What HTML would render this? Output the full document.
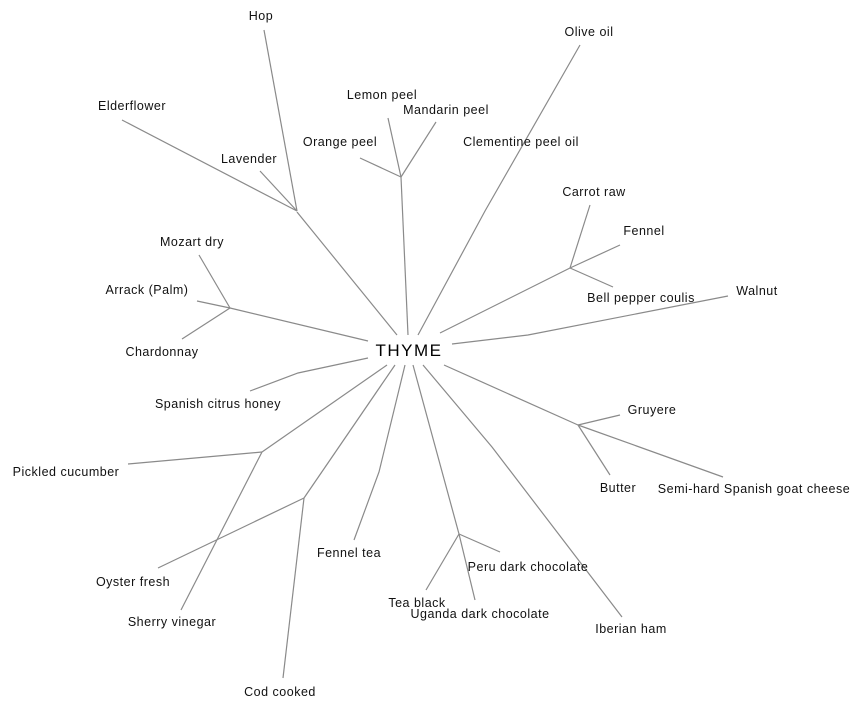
<!DOCTYPE html>
<html><head><meta charset="utf-8"><style>
html,body{margin:0;padding:0;background:#fff;}
svg{display:block;}
text{font-family:"Liberation Sans",Arial,sans-serif;font-size:12.5px;letter-spacing:0.5px;fill:#111;text-anchor:middle;}
</style></head><body>
<svg width="864" height="708" viewBox="0 0 864 708">
<g stroke="#8a8a8a" stroke-width="1.2" fill="none">
<polyline points="264,30 297,211"/>
<polyline points="122,120 297,211"/>
<polyline points="260,171 297,211"/>
<polyline points="297,212 397,335"/>
<polyline points="388,118 401,177"/>
<polyline points="360,158 401,177"/>
<polyline points="436,122 401,177"/>
<polyline points="401,177 408,335"/>
<polyline points="580,45 485,211 418,335"/>
<polyline points="590,205 570,268"/>
<polyline points="620,245 570,268"/>
<polyline points="613,287 570,268"/>
<polyline points="570,268 440,333"/>
<polyline points="728,296 528,335 452,344"/>
<polyline points="199,255 230,308"/>
<polyline points="197,301 230,308"/>
<polyline points="182,339 230,308"/>
<polyline points="230,308 368,341"/>
<polyline points="250,391 298,373 368,358"/>
<polyline points="387,365 262,452"/>
<polyline points="128,464 262,452"/>
<polyline points="181,610 262,452"/>
<polyline points="395,365 304,498"/>
<polyline points="158,568 304,498"/>
<polyline points="283,678 304,498"/>
<polyline points="405,365 379,472 354,540"/>
<polyline points="413,365 459,534"/>
<polyline points="426,590 459,534"/>
<polyline points="475,600 459,534"/>
<polyline points="500,552 459,534"/>
<polyline points="423,365 492,447 622,617"/>
<polyline points="444,365 578,425"/>
<polyline points="620,415 578,425"/>
<polyline points="610,475 578,425"/>
<polyline points="723,477 578,425"/>
</g>
<text x="409" y="356" style="font-size:17px;letter-spacing:1.5px;fill:#000">THYME</text>
<text x="261" y="20">Hop</text>
<text x="589" y="36">Olive oil</text>
<text x="132" y="110">Elderflower</text>
<text x="382" y="99">Lemon peel</text>
<text x="446" y="114">Mandarin peel</text>
<text x="340" y="146">Orange peel</text>
<text x="521" y="146">Clementine peel oil</text>
<text x="249" y="163">Lavender</text>
<text x="594" y="196">Carrot raw</text>
<text x="644" y="235">Fennel</text>
<text x="192" y="246">Mozart dry</text>
<text x="147" y="294">Arrack (Palm)</text>
<text x="641" y="302">Bell pepper coulis</text>
<text x="757" y="295">Walnut</text>
<text x="162" y="356">Chardonnay</text>
<text x="218" y="408">Spanish citrus honey</text>
<text x="652" y="414">Gruyere</text>
<text x="66" y="476">Pickled cucumber</text>
<text x="618" y="492">Butter</text>
<text x="754" y="493">Semi-hard Spanish goat cheese</text>
<text x="349" y="557">Fennel tea</text>
<text x="528" y="571">Peru dark chocolate</text>
<text x="133" y="586">Oyster fresh</text>
<text x="417" y="607">Tea black</text>
<text x="480" y="618">Uganda dark chocolate</text>
<text x="172" y="626">Sherry vinegar</text>
<text x="631" y="633">Iberian ham</text>
<text x="280" y="696">Cod cooked</text>
</svg>
</body></html>
